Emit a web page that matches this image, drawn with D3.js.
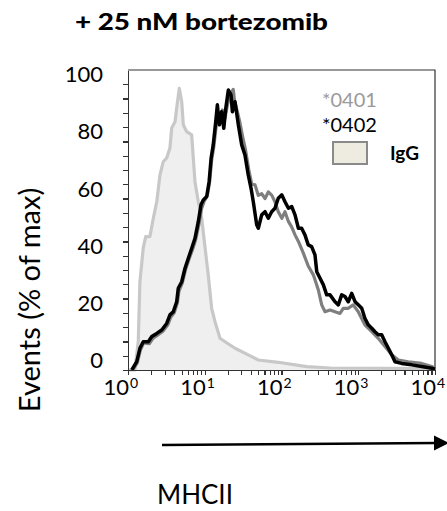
<!DOCTYPE html>
<html>
<head>
<meta charset="utf-8">
<script src="https://cdn.jsdelivr.net/npm/d3@7"></script>
<style>
  body { margin: 0; background: #fff; }
  svg { display: block; font-family: Lato, "Open Sans", sans-serif; }
  .axis path, .axis line { stroke: #333; stroke-width: 1.2; shape-rendering: crispEdges; }
</style>
</head>
<body>
<div id="chart"></div>
<script>
// MHCII intensity vs events (% of max)

// IgG control (light grey, filled)
const iggData = [
  [1.0, 0], [1.23, 0], [1.36, 9.9], [1.43, 30.9], [1.58, 42.7], [1.70, 46.7], [1.93, 46.7],
  [2.14, 53.2], [2.37, 58.9], [2.61, 68.3], [2.88, 72.9], [3.19, 74.2], [3.52, 77.7],
  [3.71, 84.7], [4.10, 86.9], [4.31, 91.7], [4.66, 98.6], [5.01, 93.9], [5.26, 85.8],
  [5.82, 83.4], [6.76, 82.3], [7.09, 74.2], [7.46, 65.9], [8.24, 58.9], [9.12, 53.2],
  [10.1, 42.7], [11.1, 33.3], [12.3, 21.6], [13.6, 16.9], [15.8, 11.1], [18.4, 9.9],
  [24.8, 7.6], [36.9, 5.3], [49.9, 3.5], [90.8, 2.7], [213, 1.2], [429, 0.7], [10000, 0.5]
];

// *0401 (mid grey)
const a0401 = [
  [1.15, 0], [1.32, 2.5], [1.45, 7.0], [1.6, 9.5], [1.9, 9.2], [2.1, 11], [2.45, 12.3],
  [2.85, 13.6], [3.3, 15.8], [3.6, 18.5], [4.0, 20], [4.4, 23.5], [4.6, 27.5], [5.1, 30.5],
  [5.6, 35], [6.2, 38.6], [6.9, 42], [7.6, 45.5], [8.4, 51], [9.1, 56.5], [9.8, 59],
  [10.8, 61], [11.6, 66], [12.3, 73.5], [13.1, 78], [14.1, 85.5], [15, 90], [16, 89],
  [17, 91], [18.3, 88], [19.5, 92], [21, 96], [23.5, 98.2], [24.5, 94], [26, 91.5],
  [28.5, 87], [31, 82], [34, 77], [37.5, 70], [41, 65], [45.2, 64.8], [49.9, 61.1],
  [55.2, 61.7], [61, 60], [67.3, 62.3], [74.5, 61.2], [82.2, 58.9], [90.8, 55.4],
  [101, 53.1], [111, 55.4], [123, 52], [136, 50], [150, 47.3], [166, 45], [192, 41],
  [223, 36.4], [260, 33.3], [302, 28], [334, 22.8], [369, 20.4], [429, 21], [498, 20.4],
  [578, 19.8], [638, 21.6], [741, 21.6], [861, 22.8], [1000, 20.4], [1220, 15.8],
  [1500, 13.4], [1820, 11.1], [2230, 8.2], [2730, 5.3], [3330, 3.5], [4490, 2.9],
  [6710, 2.3], [9060, 1.2], [10000, 0.7]
];

// *0402 (black)
const a0402 = [
  [1.12, 0], [1.30, 2.9], [1.43, 7.6], [1.58, 9.9], [1.84, 9.9], [2.04, 11.7], [2.37, 12.8],
  [2.75, 14.0], [3.19, 16.3], [3.52, 19.3], [3.89, 20.4], [4.31, 23.9], [4.52, 28.6],
  [5.01, 30.9], [5.53, 35.6], [6.11, 39.1], [6.76, 42.6], [7.46, 46.1], [8.24, 51.9],
  [8.93, 57.8], [9.57, 59.5], [10.6, 60.7], [11.4, 65.9], [12.1, 74.1], [12.9, 78.8],
  [13.9, 86.9], [14.6, 92.8], [15.5, 85.8], [16.6, 90.4], [17.7, 84.6], [18.8, 91.6],
  [20.3, 98.0], [22.0, 96.3], [22.9, 90.4], [24.8, 93.9], [27.4, 85.8], [30.3, 78.8],
  [33.4, 75.3], [36.9, 68.3], [40.1, 63.6], [42.9, 58.9], [47.5, 50.8], [49.9, 49.6],
  [55.2, 54.3], [61.0, 55.4], [67.3, 53.1], [74.5, 55.4], [82.2, 56.6], [90.8, 60.1],
  [101, 61.3], [111, 58.9], [123, 56.6], [136, 57.2], [150, 54.3], [166, 49.6], [183, 49.6],
  [202, 47.3], [223, 43.8], [247, 43.2], [273, 40.3], [288, 34.4], [318, 32.1], [351, 29.8],
  [388, 26.3], [429, 26.3], [498, 23.9], [550, 22.8], [608, 26.3], [671, 25.7], [741, 23.9],
  [822, 26.8], [908, 23.9], [1000, 22.8], [1110, 21.6], [1220, 18.1], [1350, 15.8],
  [1500, 14.6], [1650, 13.4], [1820, 12.3], [2020, 12.3], [2230, 9.9], [2470, 7.6],
  [2730, 5.3], [3010, 2.9], [3680, 2.3], [4970, 1.8], [6710, 1.2], [9060, 0.6], [10000, 0.3]
];

const yTickLabels = [0, 20, 40, 60, 80, 100];
const xTickPowers = [0, 1, 2, 3, 4];

const w = 447, h = 511;
const plotLeft = 128, plotRight = 435, plotTop = 70, plotBottom = 370;

const svg = d3.select("#chart").append("svg")
    .attr("width", w)
    .attr("height", h);

const xScale = d3.scaleLog().domain([1, 10000]).range([plotLeft, plotRight]);
const yScale = d3.scaleLinear().domain([0, 105]).range([plotBottom, plotTop]);

// title
svg.append("text")
    .attr("x", 75).attr("y", 30)
    .attr("font-size", 23).attr("font-weight", 900)
    .attr("textLength", 253).attr("lengthAdjust", "spacingAndGlyphs")
    .text("+ 25 nM bortezomib");

// frame (top and right)
svg.append("path")
    .attr("d", `M${plotLeft},${plotTop}H${plotRight}V${plotBottom}`)
    .attr("fill", "none").attr("stroke", "#333").attr("stroke-width", 1.2);

// IgG fill + line
const area = d3.area()
    .x(d => xScale(d[0]))
    .y0(yScale(0))
    .y1(d => yScale(d[1]));

const line = d3.line()
    .x(d => xScale(d[0]))
    .y(d => yScale(d[1]));

svg.append("path")
    .attr("d", area(iggData))
    .attr("fill", "#efefef");

svg.append("path")
    .attr("d", line(iggData))
    .attr("fill", "none").attr("stroke", "#c8c8c8")
    .attr("stroke-width", 3.2).attr("stroke-linejoin", "round");

svg.append("path")
    .attr("d", line(a0401))
    .attr("fill", "none").attr("stroke", "#7f7f7f")
    .attr("stroke-width", 3.2).attr("stroke-linejoin", "round");

svg.append("path")
    .attr("d", line(a0402))
    .attr("fill", "none").attr("stroke", "#000")
    .attr("stroke-width", 3.5).attr("stroke-linejoin", "round");

// y axis, ticks every 5
const yAxis = d3.axisLeft(yScale)
    .tickValues(d3.range(0, 101, 5))
    .tickSize(5).tickSizeOuter(0)
    .tickFormat("");

svg.append("g")
    .attr("class", "axis")
    .attr("transform", `translate(${plotLeft},0)`)
    .call(yAxis);

svg.append("g")
    .selectAll("text")
    .data(yTickLabels)
    .join("text")
        .attr("x", 103)
        .attr("y", d => yScale(d) - 2)
        .attr("text-anchor", "end")
        .attr("font-size", 22)
        .text(d => d);

// x axis, log ticks
const xTicks = [];
xTickPowers.slice(0, -1).forEach(p => {
    for (let k = 1; k < 10; k++) xTicks.push(k * Math.pow(10, p));
});
xTicks.push(10000);

const xAxis = d3.axisBottom(xScale)
    .tickValues(xTicks)
    .tickSize(5).tickSizeOuter(0)
    .tickFormat("");

svg.append("g")
    .attr("class", "axis")
    .attr("transform", `translate(0,${plotBottom})`)
    .call(xAxis);

const xLabels = svg.append("g")
    .selectAll("g")
    .data(xTickPowers)
    .join("g")
        .attr("transform", p => `translate(${xScale(Math.pow(10, p))},0)`);

xLabels.append("text")
    .attr("x", 1).attr("y", 395)
    .attr("text-anchor", "end")
    .attr("font-size", 22)
    .text("10");

xLabels.append("text")
    .attr("x", 2).attr("y", 388)
    .attr("font-size", 14)
    .text(p => p);

// legend
svg.append("text")
    .attr("x", 322).attr("y", 106.5)
    .attr("font-size", 20).attr("fill", "#9a9a9a")
    .text("*0401");

svg.append("text")
    .attr("x", 322).attr("y", 131.5)
    .attr("font-size", 20).attr("fill", "#000")
    .text("*0402");

svg.append("rect")
    .attr("x", 333).attr("y", 142)
    .attr("width", 34).attr("height", 22)
    .attr("fill", "#eeebe1").attr("stroke", "#8a8a8a").attr("stroke-width", 2);

svg.append("text")
    .attr("x", 390).attr("y", 160)
    .attr("font-size", 19).attr("font-weight", "bold")
    .text("IgG");

// axis titles
svg.append("text")
    .attr("transform", "translate(40,300) rotate(-90)")
    .attr("text-anchor", "middle")
    .attr("font-size", 29)
    .text("Events (% of max)");

svg.append("text")
    .attr("x", 157).attr("y", 504)
    .attr("font-size", 26)
    .text("MHCII");

// arrow
svg.append("line")
    .attr("x1", 162).attr("y1", 445)
    .attr("x2", 437).attr("y2", 443)
    .attr("stroke", "#000").attr("stroke-width", 2.6);

svg.append("path")
    .attr("d", "M434,435.5L449,443L434,450.5Z")
    .attr("fill", "#000");
</script>
</body>
</html>
